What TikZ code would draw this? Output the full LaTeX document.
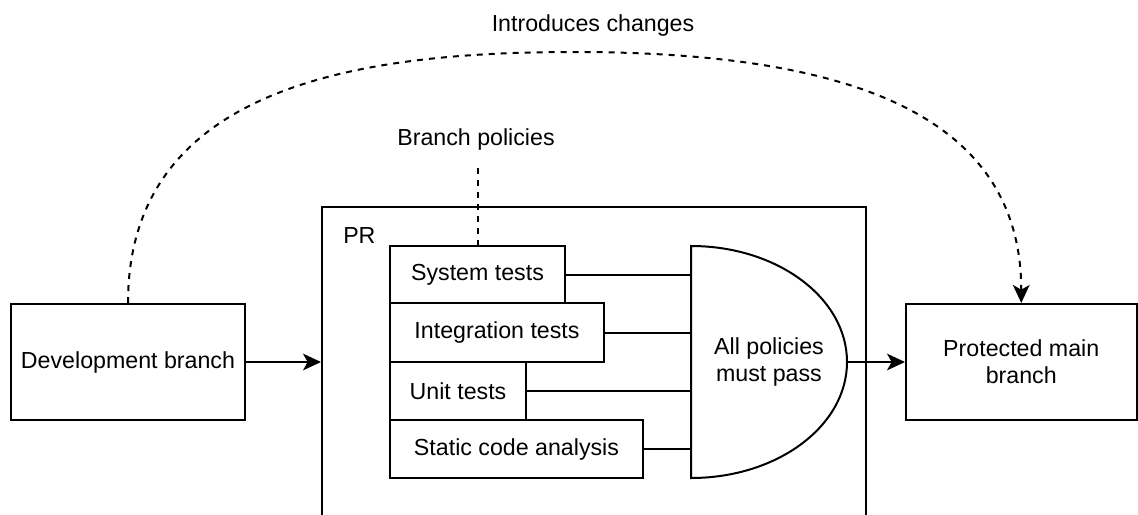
\documentclass[tikz,border=0pt]{standalone}
\usepackage{fontspec}
\setmainfont{Liberation Sans}
\usetikzlibrary{arrows.meta,calc}
\def\u{0.75pt}
\begin{document}
\begin{tikzpicture}[x=0.75pt,y=-0.75pt,
  every node/.style={font=\fontsize{17.4}{20}\selectfont,text=black},
  box/.style={draw,line width=1.5pt,fill=white,inner sep=0pt,align=center},
  conn/.style={line width=1.5pt},
  dashline/.style={line width=1.5pt,dash pattern=on 6*\u off 6*\u},
  tip/.style={-{Stealth[length=13.5pt,width=12.5pt,inset=3.5pt]}}]
\useasboundingbox (0,0) rectangle (1138,514);
\clip (0,0) rectangle (1138,514);

% pull request container, open past the lower edge
\node[box,minimum width=544*\u,minimum height=310*\u] (pr) at (594,362) {};
\node[anchor=base west,inner sep=0pt] (prlabel) at (343,243) {PR};

% branches
\node[box,minimum width=234*\u,minimum height=116*\u] (dev) at (128,362) {Development branch};
\node[box,minimum width=230.5*\u,minimum height=116*\u] (main) at (1021.25,362) {Protected main\\branch};

% policy checks
\node[box,minimum width=175*\u,minimum height=57*\u] (sys) at (477.5,274.5) {System tests};
\node[box,minimum width=214*\u,minimum height=59*\u] (integ) at (497,332.5) {Integration tests};
\node[box,minimum width=136*\u,minimum height=58*\u] (unit) at (458,391) {Unit tests};
\node[box,minimum width=253*\u,minimum height=58*\u] (static) at (516.5,449) {Static code analysis};

% AND gate combining the checks
\draw[conn,fill=white] (691,246) .. controls (777.2,246) and (847,297.9) .. (847,362)
  .. controls (847,426.1) and (777.2,478) .. (691,478) -- cycle;
\node[minimum width=156*\u,minimum height=232*\u,inner sep=0pt,align=center] (gate) at (769,362) {All policies\\must pass};

\foreach \b in {sys,integ,unit,static}
  \draw[conn] (\b.east) -- (\b.east -| gate.west);

% flow
\draw[conn,tip] (dev.east) -- (pr.west);
\draw[conn,tip] (gate.east) -- (main.west);

% annotations
\node (bp) at (476,139) {Branch policies};
\coordinate (bptail) at (477.5,168);
\draw[dashline] (bptail) -- (sys.north);

\node[anchor=base] (chg) at (593,31.5) {Introduces changes};
\coordinate (apex) at (573,52);
\draw[dashline,tip] (dev.north) .. controls (128,90) and (350,52) .. (apex)
  .. controls (840,52) and (1021.25,110) .. (main.north);
\end{tikzpicture}
\end{document}
